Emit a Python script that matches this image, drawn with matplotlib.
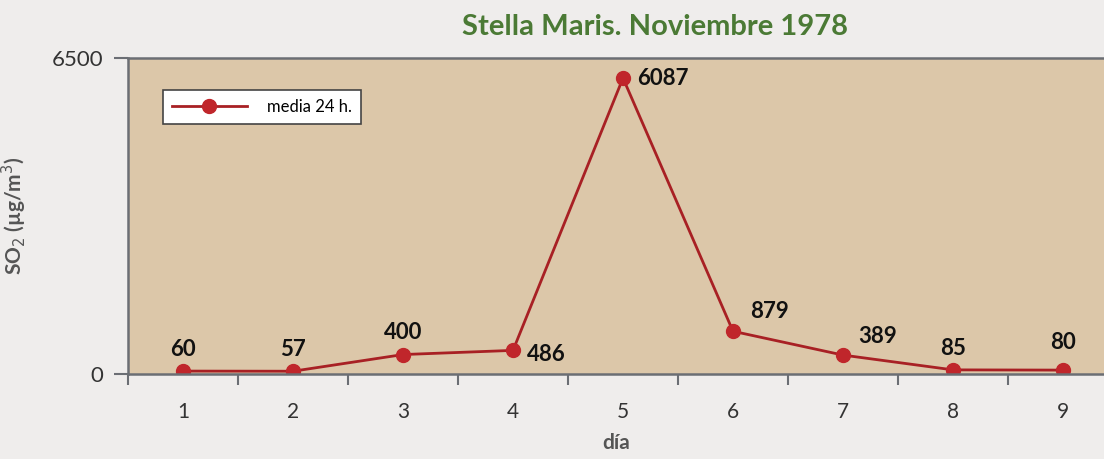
import matplotlib.pyplot as plt
import numpy as np

# Datos
dias = [1, 2, 3, 4, 5, 6, 7, 8, 9]
so2 = [60, 57, 400, 486, 6087, 879, 389, 85, 80]
etiquetas = ['60', '57', '400', '486', '6087', '879', '389', '85', '80']
# where each value label goes relative to its point (points)
offsets = [(0, 8), (0, 8), (0, 8), (10, -3), (10, 0), (12, 7), (11, 6), (0, 8), (0, 12)]
ha_list = ['center', 'center', 'center', 'left', 'left', 'left', 'left', 'center', 'center']

plt.rcParams['font.family'] = ['Lato', 'DejaVu Sans']

fig = plt.figure(figsize=(11.04, 4.59), dpi=100, facecolor='#efedec')
ax = fig.add_axes([128 / 1104, 85 / 459, 1 - 128 / 1104, (374 - 58) / 459])
ax.set_facecolor('#dcc7a9')

ax.plot(dias, so2, color='#a82024', lw=2, marker='o', ms=10,
        markerfacecolor='#c0262b', markeredgecolor='#c0262b', label='media 24 h.')

for d, v, t, off, ha in zip(dias, so2, etiquetas, offsets, ha_list):
    ax.annotate(t, (d, v), xytext=off, textcoords='offset points', ha=ha,
                va='bottom' if off[1] > 0 else 'center', fontsize=16,
                fontweight='bold', color='#111111')

ax.set_xticks(dias)
ax.set_xticks(np.arange(0.5, 9.1, 1), minor=True)
ax.tick_params(axis='x', which='major', length=0, pad=20, labelsize=15, labelcolor='#333333')
ax.tick_params(axis='x', which='minor', length=8, width=1.5, color='#6b6e74', direction='out')
ax.set_yticks([0, 6500])
ax.tick_params(axis='y', length=10, width=1.5, color='#6b6e74', labelsize=16, labelcolor='#333333', pad=8)

ax.set_xlim(0.5, 0.5 + (1104 - 128) / 110)
ax.set_ylim(0, 6500)

for s in ['left', 'bottom', 'top']:
    ax.spines[s].set_color('#6b6e74')
    ax.spines[s].set_linewidth(1.8)
ax.spines['right'].set_visible(False)

ax.set_xlabel('día', fontsize=15, fontweight='bold', color='#555555', labelpad=8)
ax.set_ylabel('SO$_2$ (µg/m$^3$)', fontsize=15, fontweight='bold', color='#555555', labelpad=16)

fig.text(655 / 1104, 1 - 27 / 459, 'Stella Maris. Noviembre 1978', ha='center', va='center',
         fontsize=21, fontweight='bold', color='#4b7a35')

leg = ax.legend(loc='upper left', bbox_to_anchor=(0.027, 0.925), fontsize=12,
                frameon=True, fancybox=False, handlelength=4.5, handletextpad=1.2,
                borderpad=0.55)
leg.get_frame().set_edgecolor('#444444')
leg.get_frame().set_linewidth(1.2)
leg.get_frame().set_facecolor('white')
leg.get_frame().set_alpha(1)

fig.savefig('out.png', dpi=100, facecolor=fig.get_facecolor())
